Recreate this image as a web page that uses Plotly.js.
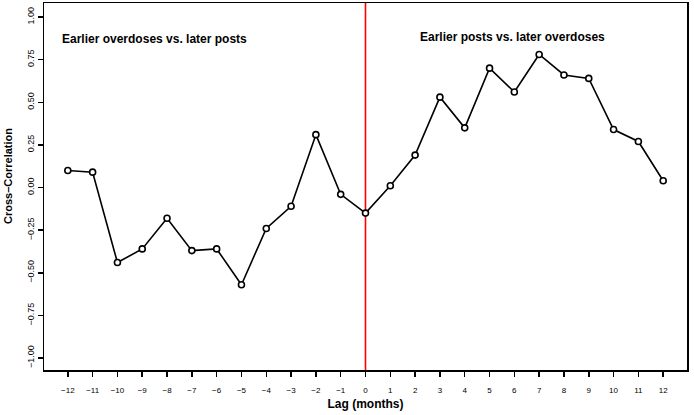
<!DOCTYPE html>
<html>
<head>
<meta charset="utf-8">
<script src="https://cdn.plot.ly/plotly-3.0.1.min.js"></script>
<style>html,body{margin:0;padding:0;background:#fff;}#chart{width:694px;height:415px;}</style>
</head>
<body>
<div id="chart"></div>
<script>
const lags = [-12,-11,-10,-9,-8,-7,-6,-5,-4,-3,-2,-1,0,1,2,3,4,5,6,7,8,9,10,11,12];
const crossCorr = [0.10,0.09,-0.44,-0.36,-0.18,-0.37,-0.36,-0.57,-0.24,-0.11,0.31,-0.04,-0.15,0.01,0.19,0.53,0.35,0.70,0.56,0.78,0.66,0.64,0.34,0.27,0.04];
const yTicks = [-1,-0.75,-0.5,-0.25,0,0.25,0.5,0.75,1];
const yTickText = ['-1.00','-0.75','-0.50','-0.25','0.00','0.25','0.50','0.75','1.00'].map(s=>s.replace('-','\u2212'));
const xTickText = lags.map(v => String(v).replace('-','\u2212'));
const leftLabel = 'Earlier overdoses vs. later posts';
const rightLabel = 'Earlier posts vs. later overdoses';
const yTitle = 'Cross\u2013Correlation';
const xTitle = 'Lag (months)';

const font = 'Liberation Sans, Arial, Helvetica, sans-serif';

Plotly.newPlot('chart', [{
  x: lags, y: crossCorr, type: 'scatter', mode: 'lines+markers',
  line: {color: '#000', width: 1.6},
  marker: {symbol: 'circle', size: 6, color: '#fff', line: {color: '#000', width: 1.6}},
  hoverinfo: 'none', showlegend: false
}], {
  width: 694, height: 415,
  margin: {l: 44, r: 7, t: 3, b: 45},
  paper_bgcolor: '#fff', plot_bgcolor: '#fff',
  font: {family: font, color: '#000'},
  xaxis: {
    range: [-12.96, 12.96], tickvals: lags, ticktext: xTickText,
    ticks: 'outside', ticklen: 5, tickwidth: 1.5, tickcolor: '#000',
    tickfont: {size: 8, family: font}, ticklabelstandoff: 7,
    showgrid: false, zeroline: false, showline: true, linecolor: '#000', linewidth: 1.5, mirror: true,
    title: {text: '<b>' + xTitle + '</b>', font: {size: 12, family: font}, standoff: 5}
  },
  yaxis: {
    range: [-1.07, 1.082], tickvals: yTicks, ticktext: yTickText, tickangle: -90,
    ticks: 'outside', ticklen: 5, tickwidth: 1.5, tickcolor: '#000',
    tickfont: {size: 9, family: font},
    showgrid: false, zeroline: false, showline: true, linecolor: '#000', linewidth: 1.5, mirror: true
  },
  shapes: [{type: 'line', xref: 'x', yref: 'paper', x0: 0, x1: 0, y0: 0, y1: 1, line: {color: '#ff0000', width: 1.6}, layer: 'below'}],
  annotations: [
    {text: '<b>' + yTitle + '</b>', xref: 'paper', yref: 'paper', x: (8-44)/643, y: 1 - (176-3)/367, xanchor: 'center', yanchor: 'middle', textangle: -90, showarrow: false, font: {size: 11, family: font}},
    {text: '<b>' + leftLabel + '</b>', xref: 'paper', yref: 'paper', x: (60-44)/643, y: 1 - (39-3)/367, xanchor: 'left', yanchor: 'middle', showarrow: false, font: {size: 12, family: font}},
    {text: '<b>' + rightLabel + '</b>', xref: 'paper', yref: 'paper', x: (418-44)/643, y: 1 - (37-3)/367, xanchor: 'left', yanchor: 'middle', showarrow: false, font: {size: 12, family: font}}
  ]
}, {displayModeBar: false, staticPlot: true});
</script>
</body>
</html>
